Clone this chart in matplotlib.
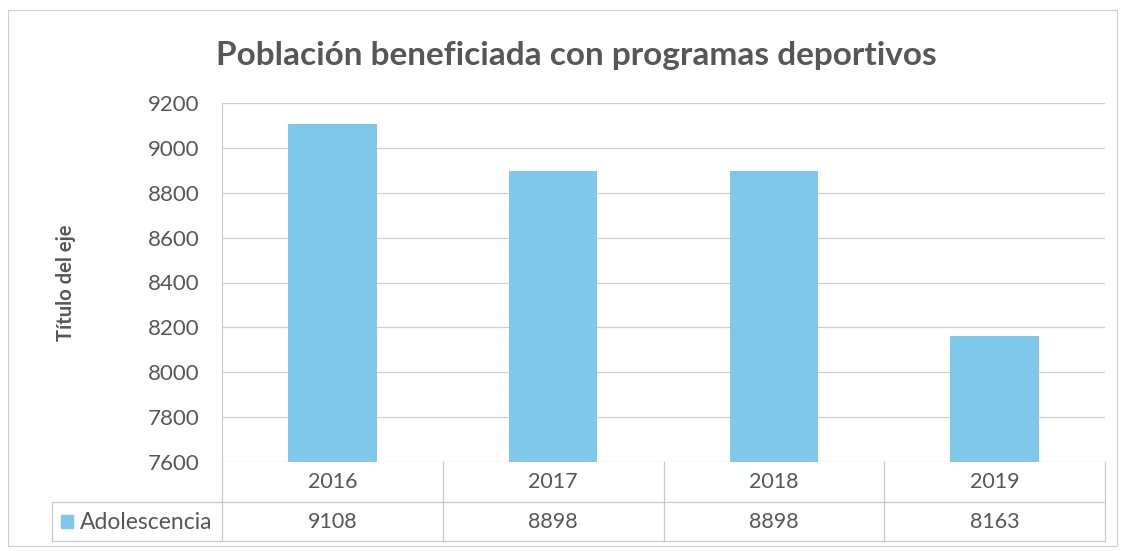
import matplotlib.pyplot as plt
from matplotlib.patches import Rectangle

# data
years = ["2016", "2017", "2018", "2019"]
adolescencia = [9108, 8898, 8898, 8163]
serie = "Adolescencia"
y_ticks = [7600, 7800, 8000, 8200, 8400, 8600, 8800, 9000, 9200]

bar_color = "#80c8e9"
text_color = "#575757"
line_color = "#c8c8c8"
font = ["Lato", "DejaVu Sans"]

W, H = 1121, 551
fig = plt.figure(figsize=(W / 100, H / 100), dpi=100)


def px(x0, y0, x1, y1):
    # pixel box (top-left origin) -> figure fraction rect
    return [x0 / W, 1 - y1 / H, (x1 - x0) / W, (y1 - y0) / H]


# outer chart frame
fig.patches.append(Rectangle((8 / W, 1 - 546 / H), 1109 / W, 536 / H,
                             transform=fig.transFigure, fill=False,
                             edgecolor="#d0d0d0", lw=0.8))

ax = fig.add_axes(px(222, 103, 1105, 462))
x = range(len(years))
ax.bar(x, adolescencia, width=0.4, color=bar_color, zorder=2)
ax.set_xlim(-0.5, len(years) - 0.5)
ax.set_ylim(y_ticks[0], y_ticks[-1])
ax.set_yticks(y_ticks)
ax.set_yticklabels([str(t) for t in y_ticks], fontsize=16,
                   color=text_color, family=font)
ax.tick_params(axis="y", length=0, pad=16)
ax.set_xticks([])
ax.grid(axis="y", color="#d0d0d0", lw=0.9, zorder=0)
for s in ["top", "right", "bottom"]:
    ax.spines[s].set_visible(False)
ax.spines["left"].set_color(line_color)
ax.set_ylabel("Título del eje", fontsize=14.5, fontweight="bold",
              color=text_color, family=font, labelpad=52)

fig.text(576 / W, 1 - 56 / H, "Población beneficiada con programas deportivos",
         ha="center", va="center", fontsize=24, fontweight="bold",
         color=text_color, family=font)

# data table under the plot
leg_w = 170 / 220.75
tx = fig.add_axes(px(52, 462, 1105, 541))
tx.set_xlim(-0.5 - leg_w, len(years) - 0.5)
tx.set_ylim(0, 2)
tx.axis("off")
kw = dict(color=line_color, lw=0.9, clip_on=False)
tx.plot([-0.5 - leg_w, len(years) - 0.5], [0, 0], **kw)
tx.plot([-0.5 - leg_w, len(years) - 0.5], [1, 1], **kw)
tx.plot([-0.5 - leg_w, -0.5 - leg_w], [0, 1], **kw)
for i in range(len(years) + 1):
    tx.plot([i - 0.5, i - 0.5], [0, 2], **kw)
for i, (yr, v) in enumerate(zip(years, adolescencia)):
    tx.text(i, 1.5, yr, ha="center", va="center", fontsize=15.5,
            color=text_color, family=font)
    tx.text(i, 0.48, str(v), ha="center", va="center", fontsize=15.5,
            color=text_color, family=font)
tx.add_patch(Rectangle((-0.5 - leg_w + 0.04, 0.33), 0.055, 0.32,
                       color=bar_color, clip_on=False))
tx.text(-0.5 - leg_w + 0.125, 0.48, serie, ha="left", va="center",
        fontsize=16.5, color=text_color, family=font)

fig.savefig("out.png", dpi=100)
